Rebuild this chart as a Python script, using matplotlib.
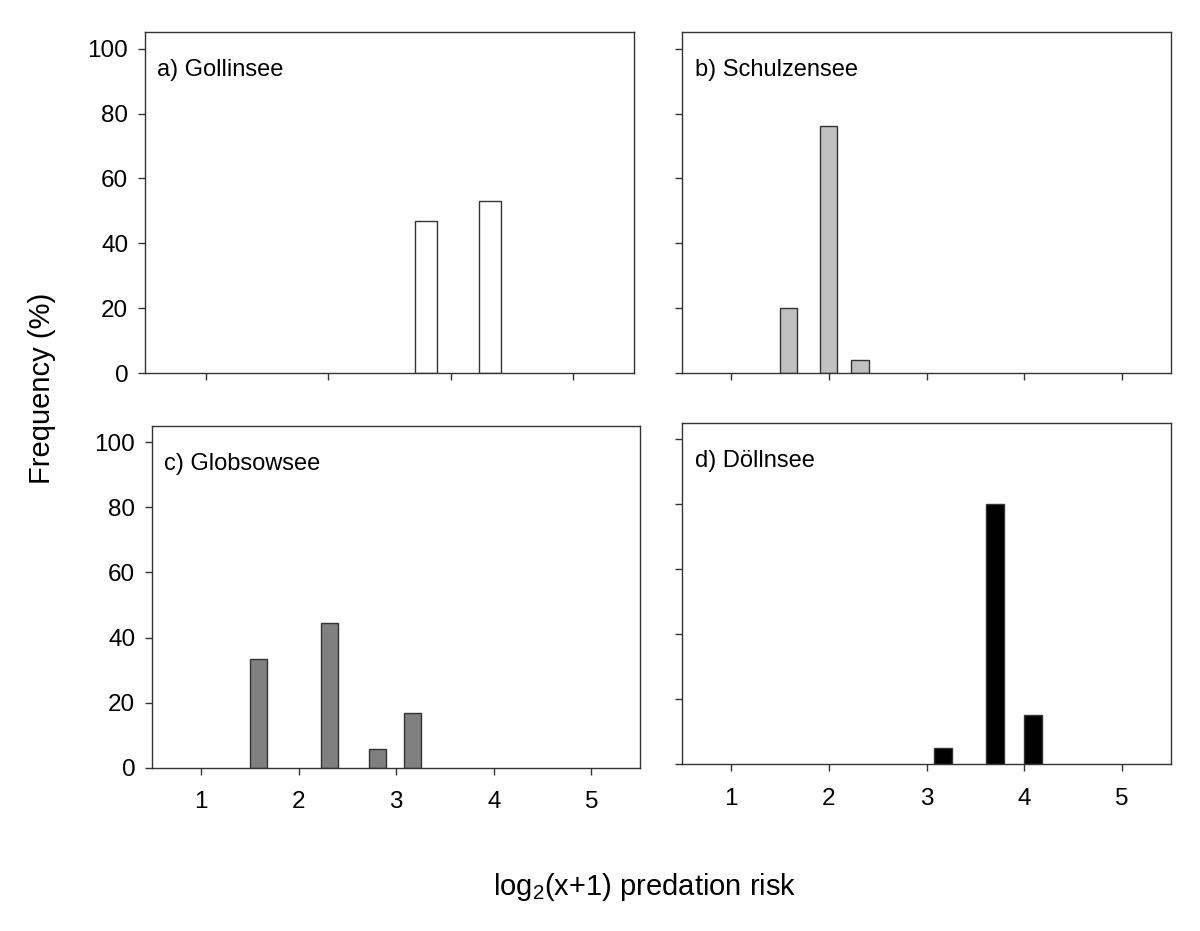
import matplotlib
matplotlib.use("Agg")
import matplotlib.pyplot as plt

plt.rcParams['font.family'] = ['Liberation Sans', 'DejaVu Sans']
plt.rcParams['mathtext.fontset'] = 'custom'
plt.rcParams['mathtext.rm'] = 'Liberation Sans'

# bin positions (log2(x+1)) and frequencies (%) per lake
gollin_x = [2.80, 3.32]
gollin_y = [47, 53]
schulzen_x = [1.59, 2.00, 2.32]
schulzen_y = [20, 76, 4]
globsow_x = [1.59, 2.32, 2.81, 3.17]
globsow_y = [33.3, 44.4, 5.6, 16.7]
doelln_x = [3.17, 3.70, 4.09]
doelln_y = [5, 80, 15]

labels = ["a) Gollinsee", "b) Schulzensee", "c) Globsowsee", "d) Döllnsee"]
colors = ["white", "#c0c0c0", "#808080", "black"]
yticks = [0, 20, 40, 60, 80, 100]

fig = plt.figure(figsize=(12, 9.31), dpi=100)
axes = [
    fig.add_axes([0.1208, 0.599, 0.4075, 0.3663]),
    fig.add_axes([0.5686, 0.599, 0.4070, 0.3663]),
    fig.add_axes([0.1267, 0.1754, 0.4069, 0.3670]),
    fig.add_axes([0.5686, 0.1794, 0.4070, 0.3660]),
]
data = [(gollin_x, gollin_y), (schulzen_x, schulzen_y),
        (globsow_x, globsow_y), (doelln_x, doelln_y)]

edge = '#333333'
for i, ax in enumerate(axes):
    xs, ys = data[i]
    ax.bar(xs, ys, width=0.177, color=colors[i], edgecolor=edge, linewidth=1.0)
    ax.set_ylim(0, 105)
    ax.set_yticks(yticks)
    if i == 0:
        ax.set_xlim(0.5, 4.5)
        ax.set_xticks([1, 2, 3, 4])
    else:
        ax.set_xlim(0.5, 5.5)
        ax.set_xticks([1, 2, 3, 4, 5])
    for s in ax.spines.values():
        s.set_color(edge)
        s.set_linewidth(1.0)
    ax.tick_params(direction='out', length=5, width=1, color=edge, labelsize=17.5)
    ax.tick_params(axis='x', pad=12)
    ax.tick_params(axis='y', pad=7)
    if i in (0, 1):
        ax.tick_params(axis='x', labelbottom=False)
    if i in (1, 3):
        ax.tick_params(axis='y', labelleft=False)
    ax.text(0.025, 0.871, labels[i], transform=ax.transAxes, fontsize=17,
            va='baseline', ha='left')

fig.text(0.035, 0.583, "Frequency (%)", rotation=90, fontsize=21,
         va='center', ha='center')
fig.text(0.5375, 0.047, r"log$_\mathrm{2}$(x+1) predation risk", fontsize=21,
         va='center', ha='center')

fig.savefig("out.png", dpi=100)
